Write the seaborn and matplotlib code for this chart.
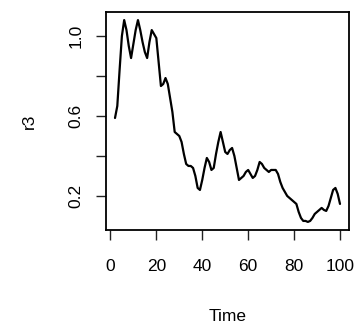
import numpy as np
import pandas as pd
import matplotlib
matplotlib.use("Agg")
import matplotlib.pyplot as plt
import seaborn as sns

time = list(range(2, 101))
r3 = [0.59, 0.65, 0.83, 1.00, 1.08, 1.03, 0.95, 0.89, 0.96, 1.03,
      1.08, 1.03, 0.97, 0.92, 0.89, 0.97, 1.03, 1.01, 0.99, 0.87,
      0.75, 0.76, 0.79, 0.76, 0.69, 0.62, 0.52, 0.51, 0.50, 0.47,
      0.41, 0.36, 0.35, 0.35, 0.34, 0.30, 0.24, 0.23, 0.28, 0.34,
      0.39, 0.37, 0.33, 0.34, 0.41, 0.47, 0.52, 0.47, 0.42, 0.41,
      0.43, 0.44, 0.40, 0.34, 0.28, 0.29, 0.30, 0.32, 0.33, 0.31,
      0.29, 0.30, 0.33, 0.37, 0.36, 0.34, 0.33, 0.32, 0.33, 0.33,
      0.33, 0.31, 0.27, 0.24, 0.22, 0.20, 0.19, 0.18, 0.17, 0.16,
      0.12, 0.09, 0.075, 0.075, 0.07, 0.075, 0.09, 0.11, 0.12, 0.13,
      0.14, 0.13, 0.125, 0.15, 0.19, 0.23, 0.24, 0.21, 0.16]
xticks = [0, 20, 40, 60, 80, 100]
yticks = [0.2, 0.4, 0.6, 0.8, 1.0]
ytick_labels = ["0.2", "", "0.6", "", "1.0"]

df = pd.DataFrame({"Time": time, "r3": r3})

sns.set_style("white")
plt.rcParams['font.family'] = ['Liberation Sans', 'DejaVu Sans']

fig = plt.figure(figsize=(3.56, 3.29), dpi=100)
ax = fig.add_axes([106/356, 1 - 230/329, (349-106)/356, (230-12)/329])
sns.lineplot(data=df, x="Time", y="r3", ax=ax, color="black", linewidth=1.6)

span_x = max(time) - min(time)
ax.set_xlim(min(time) - 0.04*span_x, max(time) + 0.04*span_x)
span_y = max(r3) - min(r3)
ax.set_ylim(min(r3) - 0.04*span_y, max(r3) + 0.04*span_y)

fs = 12.5
ax.set_xticks(xticks)
ax.set_xticklabels([str(v) for v in xticks], fontsize=fs, color="black")
ax.set_yticks(yticks)
ax.set_yticklabels(ytick_labels, fontsize=fs, rotation=90, va="center", color="black")
ax.tick_params(axis="x", pad=14)
ax.tick_params(axis="y", pad=9)
ax.tick_params(axis="both", direction="out", length=7, width=1.0, color="#222222",
               bottom=True, left=True)
for s in ax.spines.values():
    s.set_visible(True)
    s.set_color("black")
    s.set_linewidth(1.3)
ax.set_xlabel("Time", fontsize=fs, labelpad=25, color="black")
ax.set_ylabel("r3", fontsize=fs, labelpad=23, color="black")

fig.savefig("out.png", dpi=100)
